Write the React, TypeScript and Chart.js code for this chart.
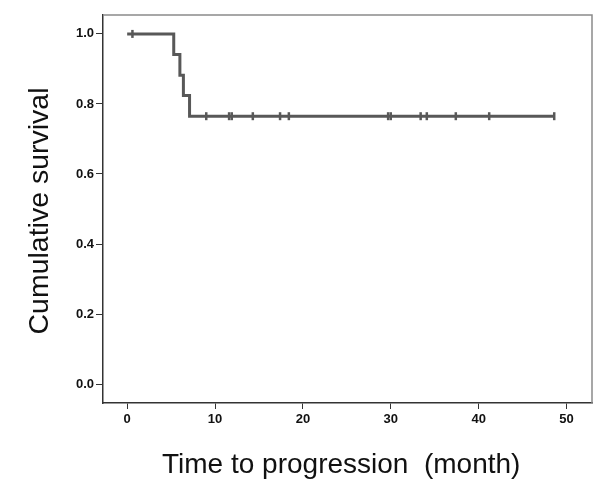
import React, { useEffect, useRef } from "react";
import { Chart, registerables } from "chart.js";

Chart.register(...registerables);

// Kaplan-Meier step curve (time in months, cumulative survival)
const stepTimes = [0, 5.3, 6.0, 6.4, 7.1, 48.6];
const stepSurvival = [1.0, 0.941, 0.882, 0.824, 0.765, 0.765];

// Censored observations (months)
const censorTimes = [0.6, 9.0, 11.6, 11.9, 14.3, 17.4, 18.4, 29.7, 30.0, 33.4, 34.1, 37.4, 41.2, 48.6];

// Axis ticks
const xTicks = [0, 10, 20, 30, 40, 50];
const yTicks = [0.0, 0.2, 0.4, 0.6, 0.8, 1.0];

const xTitle = "Time to progression  (month)";
const yTitle = "Cumulative survival";

function survivalAt(t: number): number {
  let s = stepSurvival[0];
  for (let i = 0; i < stepTimes.length; i++) {
    if (stepTimes[i] <= t) s = stepSurvival[i];
  }
  return s;
}

const framePlugin = {
  id: "frameAndTitles",
  afterDraw(chart: any) {
    const { ctx, chartArea } = chart;
    const { left, right, top, bottom } = chartArea;
    ctx.save();
    // top and right frame
    ctx.strokeStyle = "#8a8a8a";
    ctx.lineWidth = 1.5;
    ctx.beginPath();
    ctx.moveTo(left, top);
    ctx.lineTo(right, top);
    ctx.lineTo(right, bottom);
    ctx.stroke();

    // titles
    ctx.fillStyle = "#111";
    ctx.font = "28px 'Liberation Sans', Arial, sans-serif";
    ctx.textBaseline = "alphabetic";
    ctx.textAlign = "left";
    ctx.fillText(xTitle, 162, 473);

    ctx.font = "28.5px 'Liberation Sans', Arial, sans-serif";
    ctx.translate(48, 211);
    ctx.rotate(-Math.PI / 2);
    ctx.textAlign = "center";
    ctx.fillText(yTitle, 0, 0);
    ctx.restore();
  },
};

export default function App() {
  const canvasRef = useRef<HTMLCanvasElement | null>(null);

  useEffect(() => {
    if (!canvasRef.current) return;
    const lineData = stepTimes.map((t, i) => ({ x: t, y: stepSurvival[i] }));
    const censorData = censorTimes.map((t) => ({ x: t, y: survivalAt(t) }));

    const tickFont = { family: "'Liberation Sans', Arial, sans-serif", size: 13, weight: "bold" as const };

    const chart = new Chart(canvasRef.current, {
      type: "line",
      data: {
        datasets: [
          {
            label: "Survival",
            data: lineData,
            stepped: "before",
            borderColor: "#585858",
            borderWidth: 3,
            pointRadius: 0,
            fill: false,
            order: 2,
          },
          {
            label: "Censored",
            data: censorData,
            showLine: false,
            pointStyle: "line",
            rotation: 90,
            pointRadius: 4,
            borderColor: "#585858",
            borderWidth: 2.5,
            order: 1,
          } as any,
        ],
      },
      options: {
        animation: false,
        responsive: false,
        devicePixelRatio: 1,
        layout: { padding: { top: 15, right: 8, left: 0, bottom: 0 } },
        plugins: {
          legend: { display: false },
          tooltip: { enabled: false },
        },
        scales: {
          x: {
            type: "linear",
            min: -2.75,
            max: 52.9,
            afterBuildTicks: (scale: any) => {
              scale.ticks = xTicks.map((v) => ({ value: v }));
            },
            afterFit: (scale: any) => {
              scale.height = 89;
            },
            grid: {
              drawOnChartArea: false,
              drawTicks: true,
              tickLength: 6,
              color: "#333",
            },
            border: { display: true, color: "#333", width: 1.5 },
            ticks: {
              font: tickFont,
              color: "#111",
              padding: 3,
              maxRotation: 0,
              callback: (v: any) => String(v),
            },
          },
          y: {
            type: "linear",
            min: -0.054,
            max: 1.054,
            afterBuildTicks: (scale: any) => {
              scale.ticks = yTicks.map((v) => ({ value: v }));
            },
            afterFit: (scale: any) => {
              scale.width = 103;
            },
            grid: {
              drawOnChartArea: false,
              drawTicks: true,
              tickLength: 7,
              color: "#333",
            },
            border: { display: true, color: "#333", width: 1.5 },
            ticks: {
              font: tickFont,
              color: "#111",
              padding: 2,
              callback: (v: any) => Number(v).toFixed(1),
            },
          },
        },
      },
      plugins: [framePlugin],
    });
    return () => chart.destroy();
  }, []);

  return (
    <div style={{ position: "absolute", left: 0, top: 0, width: 600, height: 492, background: "#fff" }}>
      <canvas ref={canvasRef} width={600} height={492} style={{ width: 600, height: 492, display: "block" }} />
    </div>
  );
}
